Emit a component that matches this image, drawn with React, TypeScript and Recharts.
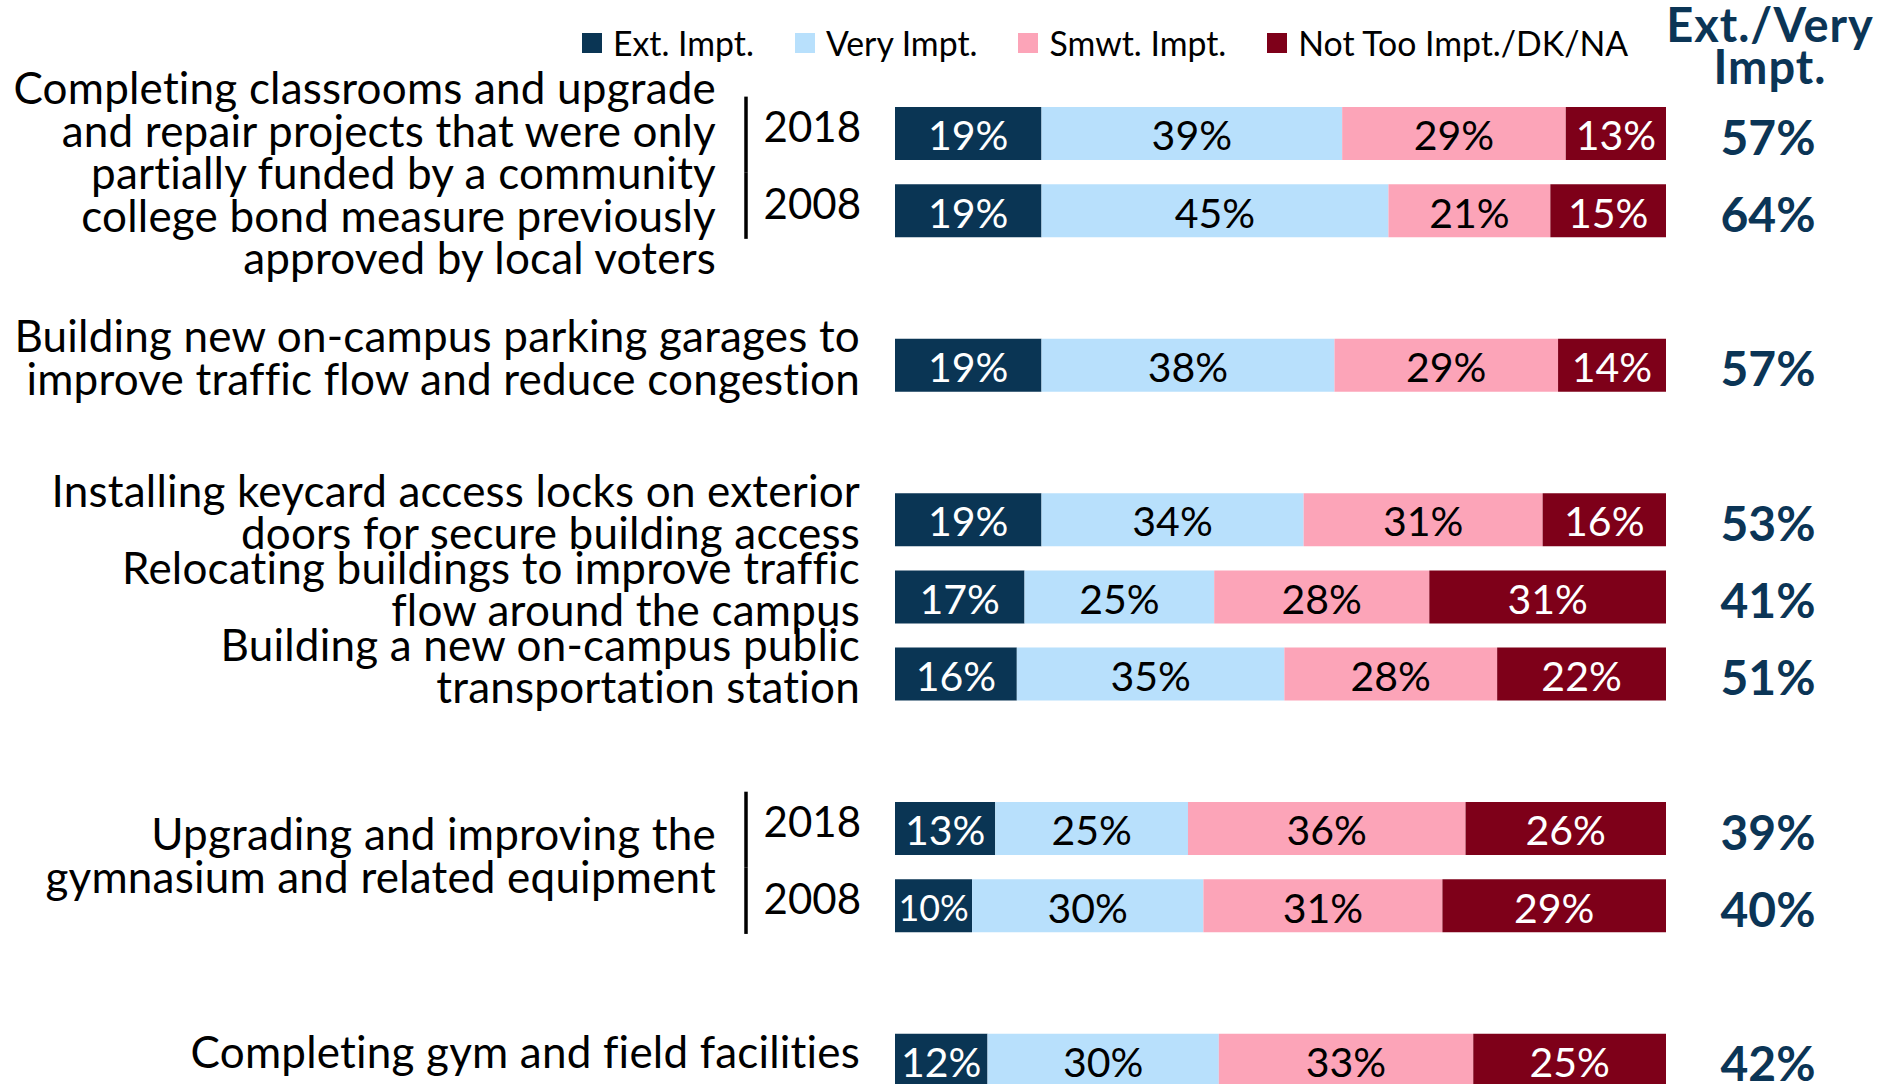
import React from "react";
import { BarChart, Bar, XAxis, YAxis, Legend, LabelList } from "recharts";

// ---------- data ----------
const itemLabels: string[][] = [
  [
    "Completing classrooms and upgrade",
    "and repair projects that were only",
    "partially funded by a community",
    "college bond measure previously",
    "approved by local voters",
  ],
  ["Building new on-campus parking garages to", "improve traffic flow and reduce congestion"],
  ["Installing keycard access locks on exterior", "doors for secure building access"],
  ["Relocating buildings to improve traffic", "flow around the campus"],
  ["Building a new on-campus public", "transportation station"],
  ["Upgrading and improving the", "gymnasium and related equipment"],
  ["Completing gym and field facilities"],
];

const rowIds = [
  "classrooms-2018", "classrooms-2008", "gap-1", "parking", "gap-2",
  "keycard", "relocating", "transit", "gap-3", "gym-2018", "gym-2008", "gap-4", "fields",
];
const rowItem = [0, 0, -1, 1, -1, 2, 3, 4, -1, 5, 5, -1, 6];
const rowYear = ["2018", "2008", "", "", "", "", "", "", "", "2018", "2008", "", ""];

const extImpt = [19, 19, null, 19, null, 19, 16.8, 15.8, null, 13, 10, null, 12];
const veryImpt = [39, 45, null, 38, null, 34, 24.6, 34.7, null, 25, 30, null, 30];
const smwtImpt = [29, 21, null, 29, null, 31, 27.9, 27.6, null, 36, 31, null, 33];
const notTooImpt = [13, 15, null, 14, null, 16, 30.7, 21.9, null, 26, 29, null, 25];
const extVeryTotal = [57, 64, null, 57, null, 53, 41, 51, null, 39, 40, null, 42];

const seriesNames = ["Ext. Impt.", "Very Impt.", "Smwt. Impt.", "Not Too Impt./DK/NA"];
const headerLines = ["Ext./Very", "Impt."];

const data = rowIds.map((id, i) => ({
  id,
  ext: extImpt[i],
  very: veryImpt[i],
  smwt: smwtImpt[i],
  notToo: notTooImpt[i],
  total: extVeryTotal[i],
}));

// ---------- style ----------
const FONT = "Lato, 'Open Sans', sans-serif";
const NAVY = "#0A3554";
const LIGHT_BLUE = "#B8E0FC";
const PINK = "#FCA4B8";
const DARK_RED = "#7E0019";
const TOTAL_COLOR = "#0B3556";

const W = 1878;
const H = 1099;
const M_TOP = 95;
const M_RIGHT = 212;
const AXIS_W = 895;
const BAND = (H - M_TOP) / rowIds.length;

const LABEL_FS = 44;
const LABEL_LS = 0.2;
const LINE_H = 42.5;
const GROUP_LABEL_RIGHT = 716;
const SINGLE_LABEL_RIGHT = 860;
const YEAR_RIGHT = 861;
const BRACKET_X = 746;

const LeftTick = (props: any) => {
  const { y, payload } = props;
  const i = payload.index;
  const item = rowItem[i];
  const out: React.ReactNode[] = [];
  if (rowYear[i]) {
    out.push(
      <text key="yr" x={YEAR_RIGHT} y={y + 8} textAnchor="end" fontSize={42} fontFamily={FONT} fill="#000">
        {rowYear[i]}
      </text>
    );
    const first = i === rowItem.indexOf(item);
    out.push(
      <line
        key="br"
        x1={BRACKET_X}
        x2={BRACKET_X}
        y1={first ? y - 37 : y - BAND / 2}
        y2={first ? y + BAND / 2 : y + 28}
        stroke="#000"
        strokeWidth={3.5}
      />
    );
  }
  if (item >= 0 && i === rowItem.indexOf(item)) {
    const span = rowItem.filter((v) => v === item).length;
    const cy = y + ((span - 1) * BAND) / 2;
    const right = span > 1 ? GROUP_LABEL_RIGHT : SINGLE_LABEL_RIGHT;
    const lines = itemLabels[item];
    // taller blocks sit a little lower, as in the source slide
    const shift = lines.length > 2 ? 17 : span > 1 ? 4 : 8;
    out.push(
      <text
        key="lb"
        textAnchor="end"
        fontSize={LABEL_FS}
        letterSpacing={LABEL_LS}
        fontFamily={FONT}
        fill="#000"
      >
        {lines.map((ln, k) => (
          <tspan key={k} x={right} y={cy + shift + (k - (lines.length - 1) / 2) * LINE_H}>
            {ln}
          </tspan>
        ))}
      </text>
    );
  }
  return <g>{out}</g>;
};

const makeSegLabel = (color: string) => (props: any) => {
  const { x, y, width, height, value } = props;
  if (value === null || value === undefined) return null;
  const fs = Math.min(41, width / 2.15);
  return (
    <text
      x={x + width / 2}
      y={y + height / 2 + fs * 0.41}
      textAnchor="middle"
      fontSize={fs}
      fontFamily={FONT}
      fill={color}
    >
      {`${Math.round(value)}%`}
    </text>
  );
};

const TotalLabel = (props: any) => {
  const { x, y, width, height, value } = props;
  if (value === null || value === undefined) return null;
  return (
    <text
      x={x + width + 102}
      y={y + height / 2 + 21}
      textAnchor="middle"
      fontSize={48}
      fontWeight={700}
      fontFamily={FONT}
      fill={TOTAL_COLOR}
    >
      {`${value}%`}
    </text>
  );
};

const renderLegend = (props: any) => {
  const payload = [...(props.payload || [])].sort(
    (a: any, b: any) => seriesNames.indexOf(a.value) - seriesNames.indexOf(b.value)
  );
  return (
    <div style={{ position: "relative", width: 0, height: 0 }}>
      <div
        style={{
          position: "absolute",
          left: 582,
          top: 24,
          display: "flex",
          alignItems: "center",
          whiteSpace: "nowrap",
          fontFamily: FONT,
          fontSize: 33.8,
          lineHeight: "38px",
          color: "#000",
          gap: 41,
        }}
      >
        {payload.map((e: any) => (
          <div key={e.value} style={{ display: "flex", alignItems: "center" }}>
            <span style={{ width: 20, height: 20, background: e.color, marginRight: 11, display: "inline-block" }} />
            <span>{e.value}</span>
          </div>
        ))}
      </div>
      <div
        style={{
          position: "absolute",
          left: 1770 - 150,
          top: 3,
          width: 300,
          textAlign: "center",
          fontFamily: FONT,
          fontWeight: 700,
          fontSize: 47,
          letterSpacing: 1,
          lineHeight: "42px",
          color: TOTAL_COLOR,
          whiteSpace: "nowrap",
        }}
      >
        {headerLines.map((h) => (
          <div key={h}>{h}</div>
        ))}
      </div>
    </div>
  );
};

export default function App() {
  return (
    <div style={{ position: "absolute", left: 0, top: 0, width: W, height: 1084, overflow: "hidden", background: "#fff" }}>
      <BarChart
        width={W}
        height={H}
        data={data}
        layout="vertical"
        margin={{ top: M_TOP, right: M_RIGHT, bottom: 0, left: 0 }}
      >
        <XAxis type="number" domain={[0, 100]} hide />
        <YAxis
          type="category"
          dataKey="id"
          width={AXIS_W}
          axisLine={false}
          tickLine={false}
          interval={0}
          tick={<LeftTick />}
        />
        <Legend
          verticalAlign="top"
          content={renderLegend}
          wrapperStyle={{ left: 0, top: 0, width: 0, height: 0 }}
        />
        <Bar dataKey="ext" name={seriesNames[0]} stackId="a" fill={NAVY} barSize={53} isAnimationActive={false}>
          <LabelList dataKey="ext" content={makeSegLabel("#fff")} />
        </Bar>
        <Bar dataKey="very" name={seriesNames[1]} stackId="a" fill={LIGHT_BLUE} barSize={53} isAnimationActive={false}>
          <LabelList dataKey="very" content={makeSegLabel("#000")} />
        </Bar>
        <Bar dataKey="smwt" name={seriesNames[2]} stackId="a" fill={PINK} barSize={53} isAnimationActive={false}>
          <LabelList dataKey="smwt" content={makeSegLabel("#000")} />
        </Bar>
        <Bar dataKey="notToo" name={seriesNames[3]} stackId="a" fill={DARK_RED} barSize={53} isAnimationActive={false}>
          <LabelList dataKey="notToo" content={makeSegLabel("#fff")} />
          <LabelList dataKey="total" content={TotalLabel} />
        </Bar>
      </BarChart>
    </div>
  );
}
